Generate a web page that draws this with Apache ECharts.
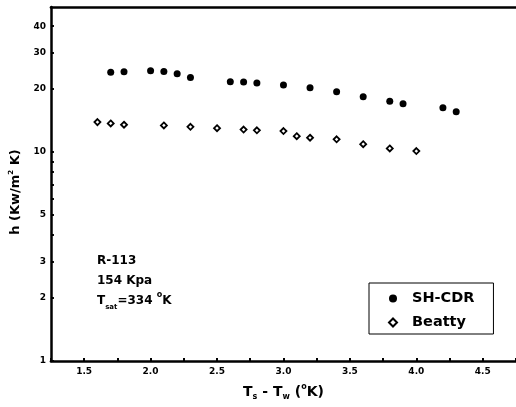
<!DOCTYPE html>
<html>
<head>
<meta charset="utf-8">
<script src="https://cdn.jsdelivr.net/npm/echarts@6/dist/echarts.min.js"></script>
<style>
  html, body { margin: 0; padding: 0; background: #fff; }
  #chart { width: 516px; height: 407px; }
</style>
</head>
<body>
<div id="chart"></div>
<script>
// Condensation heat transfer coefficient vs. wall subcooling, R-113 at 154 kPa
const shcdrDT = [1.7, 1.8, 2.0, 2.1, 2.2, 2.3, 2.6, 2.7, 2.8, 3.0, 3.2, 3.4, 3.6, 3.8, 3.9, 4.2, 4.3];
const shcdrH  = [24.1, 24.2, 24.5, 24.3, 23.7, 22.7, 21.7, 21.6, 21.4, 20.9, 20.3, 19.4, 18.4, 17.5, 17.0, 16.3, 15.6];

const beattyDT = [1.6, 1.7, 1.8, 2.1, 2.3, 2.5, 2.7, 2.8, 3.0, 3.1, 3.2, 3.4, 3.6, 3.8, 4.0];
const beattyH  = [13.9, 13.7, 13.5, 13.4, 13.2, 13.0, 12.8, 12.7, 12.6, 11.9, 11.7, 11.5, 10.9, 10.4, 10.1];

const xTickLabels = [1.5, 2.0, 2.5, 3.0, 3.5, 4.0, 4.5];
const yTickLabels = [1, 2, 3, 5, 10, 20, 30, 40];
const yTickMarks  = [1, 2, 3, 4, 5, 6, 7, 8, 9, 10, 20, 30, 40];

const FONT = 'DejaVu Sans';
const X_MIN = 1.25, X_MAX = 4.75;

const zip = (xs, ys) => xs.map((x, i) => [x, ys[i]]);

const chart = echarts.init(document.getElementById('chart'), null, { renderer: 'canvas' });

chart.setOption({
  animation: false,
  backgroundColor: '#fff',
  textStyle: { fontFamily: FONT, color: '#000' },
  grid: { left: 45, right: 0, top: 7, bottom: 46 },
  title: {
    left: 92, top: 246,
    text: 'R-113\n154 Kpa\n{b|T}{sub|sat}{b|=334 }{sup|o}{b|K}',
    textStyle: {
      fontFamily: FONT, fontSize: 12, fontWeight: 'bold', color: '#000', lineHeight: 20,
      rich: {
        b:   { fontFamily: FONT, fontSize: 12, fontWeight: 'bold', color: '#000', lineHeight: 20 },
        sub: { fontFamily: FONT, fontSize: 7, fontWeight: 'bold', color: '#000', verticalAlign: 'bottom', lineHeight: 12 },
        sup: { fontFamily: FONT, fontSize: 8, fontWeight: 'bold', color: '#000', verticalAlign: 'top', lineHeight: 20 }
      }
    }
  },
  legend: {
    left: 369, top: 283,
    orient: 'vertical',
    backgroundColor: '#fff',
    borderColor: '#000', borderWidth: 1,
    padding: [8, 19, 4, 19],
    itemWidth: 8, itemHeight: 8, itemGap: 9,
    textStyle: {
      fontFamily: FONT, fontSize: 14.5, fontWeight: 'bold', color: '#000',
      padding: [0, 0, 0, 10]
    },
    data: [
      { name: 'SH-CDR', icon: 'circle' },
      { name: 'Beatty', icon: 'diamond' }
    ]
  },
  xAxis: [
    {
      type: 'value',
      min: X_MIN, max: X_MAX, interval: 0.25,
      name: '{t|T}{s|s}{t| - T}{s|w}{t| (}{o|o}{t|K)}',
      nameLocation: 'middle', nameGap: 22,
      nameTextStyle: {
        rich: {
          t: { fontFamily: FONT, fontSize: 14, fontWeight: 'bold', color: '#000', lineHeight: 18 },
          s: { fontFamily: FONT, fontSize: 8, fontWeight: 'bold', color: '#000', verticalAlign: 'bottom', lineHeight: 10 },
          o: { fontFamily: FONT, fontSize: 8, fontWeight: 'bold', color: '#000', verticalAlign: 'top', lineHeight: 18 }
        }
      },
      axisLine: { show: true, lineStyle: { color: '#000', width: 2.5 } },
      axisTick: { show: true, inside: true, length: 3, lineStyle: { color: '#000', width: 2 } },
      axisLabel: {
        customValues: xTickLabels,
        formatter: v => v.toFixed(1),
        margin: 6, fontFamily: FONT, fontSize: 9, fontWeight: 'bold', color: '#000'
      },
      splitLine: { show: false }
    },
    {
      // frame line along the top of the plot
      type: 'value', position: 'top',
      min: X_MIN, max: X_MAX,
      axisLine: { show: true, lineStyle: { color: '#000', width: 2.5 } },
      axisTick: { show: false },
      axisLabel: { show: false },
      splitLine: { show: false }
    }
  ],
  yAxis: {
    type: 'log', logBase: 10,
    min: 1, max: 49.4,
    name: 'h (Kw/m{sup|2} K)',
    nameLocation: 'middle', nameGap: 25, nameRotate: 90,
    nameTextStyle: {
      fontFamily: FONT, fontSize: 13, fontWeight: 'bold', color: '#000',
      padding: [0, 16, 0, 0],
      rich: {
        sup: { fontFamily: FONT, fontSize: 7, fontWeight: 'bold', color: '#000', verticalAlign: 'top', lineHeight: 16 }
      }
    },
    axisLine: { show: true, lineStyle: { color: '#000', width: 2.5 } },
    axisTick: { show: true, inside: true, length: 3, customValues: yTickMarks, lineStyle: { color: '#000', width: 2 } },
    axisLabel: {
      customValues: yTickLabels,
      formatter: v => String(Math.round(v)),
      margin: 5, fontFamily: FONT, fontSize: 9, fontWeight: 'bold', color: '#000'
    },
    splitLine: { show: false },
    minorTick: { show: false }
  },
  series: [
    {
      name: 'SH-CDR',
      type: 'scatter',
      symbol: 'circle',
      symbolSize: 7,
      itemStyle: { color: '#000', opacity: 1 },
      data: zip(shcdrDT, shcdrH)
    },
    {
      name: 'Beatty',
      type: 'scatter',
      symbol: 'diamond',
      symbolSize: 6,
      itemStyle: { color: '#fff', borderColor: '#000', borderWidth: 1.8, opacity: 1 },
      data: zip(beattyDT, beattyH)
    }
  ]
});
</script>
</body>
</html>
